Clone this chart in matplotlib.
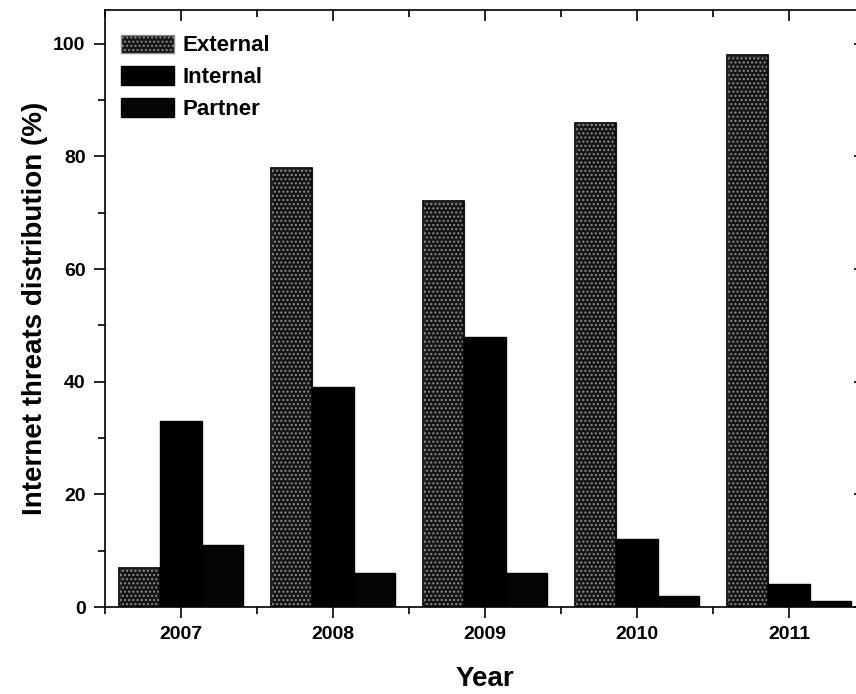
import matplotlib.pyplot as plt
import numpy as np
from matplotlib.ticker import MultipleLocator

plt.rcParams['font.family'] = ['Liberation Sans', 'DejaVu Sans']
plt.rcParams['font.weight'] = 'bold'

years = [2007, 2008, 2009, 2010, 2011]
external = [7, 78, 72, 86, 98]
internal = [33, 39, 48, 12, 4]
partner = [11, 6, 6, 2, 1]

fig = plt.figure(figsize=(8.56, 6.94), dpi=100)
ax = fig.add_axes([105 / 856, 87 / 694, 760 / 856, 597 / 694])

x = np.array(years)
w = 0.27

# External bars: dark speckled look via dense hatch
ax.bar(x - w, external, w, color='#151515', edgecolor='#8c8c8c',
       hatch='....', linewidth=1, label='External')
ax.bar(x - w, external, w, fill=False, edgecolor='black', linewidth=1.2)
ax.bar(x, internal, w, color='black', edgecolor='black', label='Internal')
ax.bar(x + w, partner, w, color='#050505', edgecolor='black', label='Partner')

ax.set_xlim(2006.5, 2011.5)
ax.set_ylim(0, 106)
ax.set_xticks(years)
ax.xaxis.set_minor_locator(MultipleLocator(0.5))
ax.yaxis.set_major_locator(MultipleLocator(20))
ax.yaxis.set_minor_locator(MultipleLocator(10))

ax.tick_params(which='both', direction='out', labelsize=14, width=1.2)
ax.tick_params(which='major', length=8, pad=6)
ax.tick_params(which='minor', length=5)
ax.tick_params(which='both', top=True, right=True)

# top/right ticks point inward
for t in ax.xaxis.get_major_ticks() + ax.xaxis.get_minor_ticks():
    t.tick2line.set_marker(3)
for t in ax.yaxis.get_major_ticks() + ax.yaxis.get_minor_ticks():
    t.tick2line.set_marker(0)

for s in ax.spines.values():
    s.set_linewidth(1.2)

ax.set_xlabel('Year', fontsize=20, fontweight='bold', labelpad=16)
ax.set_ylabel('Internet threats distribution (%)', fontsize=20,
              fontweight='bold', labelpad=4)

ax.legend(loc='upper left', frameon=False, fontsize=16, handlelength=2.4,
          handleheight=0.9, labelspacing=0.45, handletextpad=0.4,
          borderaxespad=0.3, bbox_to_anchor=(0.0, 0.985))

fig.savefig('out.png', dpi=100)
